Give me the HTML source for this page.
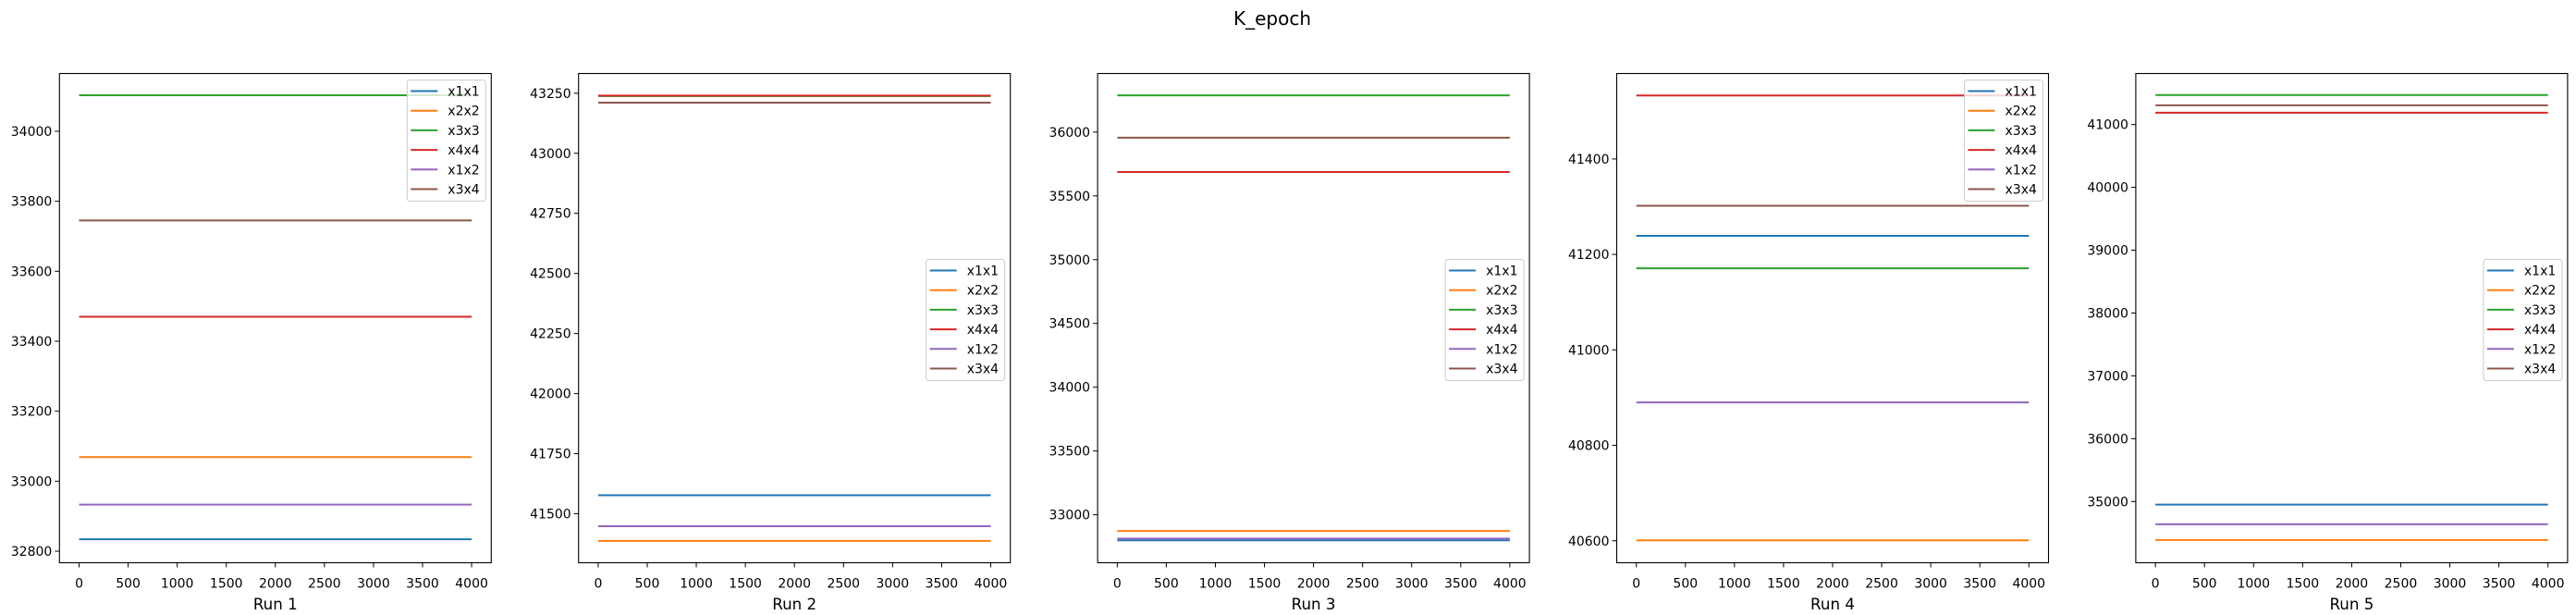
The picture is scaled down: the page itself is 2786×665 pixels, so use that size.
<!DOCTYPE html>
<html><head><meta charset="utf-8">
<style>
html,body{margin:0;padding:0;background:#fff;}
svg{display:block;font-family:"DejaVu Sans","Liberation Sans",sans-serif;}
</style></head>
<body>
<svg id="fig" width="2786" height="665" viewBox="0 0 2786 665" xmlns="http://www.w3.org/2000/svg">
<rect width="2786" height="665" fill="#fff"/>
<text x="1376" y="27" font-size="20" text-anchor="middle" fill="#000">K_epoch</text>
</svg>
<script>
const seriesNames = ["x1x1","x2x2","x3x3","x4x4","x1x2","x3x4"];
const seriesColors = ["#1f77b4","#ff7f0e","#2ca02c","#d62728","#9467bd","#8c564b"];
const runLabels = ["Run 1","Run 2","Run 3","Run 4","Run 5"];
const xStart = [0,0,0,0,0];
const xEnd = [4000,4000,4000,4000,4000];
const xTicks = [0,500,1000,1500,2000,2500,3000,3500,4000];
const run1Values = [32834,33069,34103,33470,32933,33745];
const run2Values = [41577,41387,43238,43240,41448,43211];
const run3Values = [32800,32873,36288,35687,32813,35956];
const run4Values = [41239,40601,41171,41533,40890,41302];
const run5Values = [34950,34388,41469,41188,34638,41306];
const run1Ticks = [32800,33000,33200,33400,33600,33800,34000];
const run2Ticks = [41500,41750,42000,42250,42500,42750,43000,43250];
const run3Ticks = [33000,33500,34000,34500,35000,35500,36000];
const run4Ticks = [40600,40800,41000,41200,41400];
const run5Ticks = [35000,36000,37000,38000,39000,40000,41000];
const runYMin = [32767,41296,32624,40554,34025];
const runYMax = [34165,43332,36459,41579,41812];
const legendPlacement = ["upper","center","center","upper","center"];

const allValues=[run1Values,run2Values,run3Values,run4Values,run5Values];
const allTicks=[run1Ticks,run2Ticks,run3Ticks,run4Ticks,run5Ticks];
const NS="http://www.w3.org/2000/svg";
const svg=document.getElementById('fig');
const AXW=467, TOP=79.5, BOT=608.5, PITCH=561.4, LEFT0=64.3;
function mk(tag,attrs,parent){const e=document.createElementNS(NS,tag);for(const k in attrs)e.setAttribute(k,attrs[k]);(parent||svg).appendChild(e);return e;}

for(let p=0;p<5;p++){
  const L=LEFT0+p*PITCH, R=L+AXW;
  const xmin=-200, xmax=4200;
  const xs=v=>L+(v-xmin)/(xmax-xmin)*AXW;
  const ys=v=>BOT-(v-runYMin[p])/(runYMax[p]-runYMin[p])*(BOT-TOP);
  const g=mk('g',{});
  
  
  // series
  allValues[p].forEach((v,i)=>{
    const ln=mk('line',{x1:xs(xStart[p]),x2:xs(xEnd[p]),y1:ys(v),y2:ys(v),stroke:seriesColors[i],'stroke-width':2},g);
    
    
  });
  // frame
  const fr=mk('rect',{x:L,y:TOP,width:AXW,height:BOT-TOP,fill:'none',stroke:'#000','stroke-width':1.1},g);
  
  
  // x ticks
  xTicks.forEach(t=>{
    const x=xs(t);
    mk('line',{x1:x,x2:x,y1:BOT,y2:BOT+5,stroke:'#000','stroke-width':1},g);
    const tx=mk('text',{x:x,y:BOT+27,'font-size':14,'text-anchor':'middle',fill:'#000'},g);
    tx.textContent=t;
    
    
  });
  // y ticks
  allTicks[p].forEach(t=>{
    const y=ys(t);
    mk('line',{x1:L-5,x2:L,y1:y,y2:y,stroke:'#000','stroke-width':1},g);
    const tx=mk('text',{x:L-8,y:y+5,'font-size':14,'text-anchor':'end',fill:'#000'},g);
    tx.textContent=t;
    
    
  });
  // x label
  const xl=mk('text',{x:(L+R)/2,y:659,'font-size':16.7,'text-anchor':'middle',fill:'#000'},g);
  xl.textContent=runLabels[p];
  
  
  // legend
  const lw=85, lh=131;
  const lx=R-6-lw;
  const ly=legendPlacement[p]==='upper'?TOP+7:(TOP+BOT)/2-lh/2+2;
  const lg=mk('g',{},g);
  
  
  mk('rect',{x:lx,y:ly,width:lw,height:lh,rx:3,fill:'#fff','fill-opacity':0.8,stroke:'#ccc','stroke-width':1},lg);
  seriesNames.forEach((n,i)=>{
    const yy=ly+12+i*21.2;
    const h=mk('line',{x1:lx+4,x2:lx+33,y1:yy,y2:yy,stroke:seriesColors[i],'stroke-width':2},lg);
    
    
    const t=mk('text',{x:lx+44,y:yy+5,'font-size':14,fill:'#000'},lg);
    t.textContent=n;
    
    
  });
}
</script>
</body></html>
